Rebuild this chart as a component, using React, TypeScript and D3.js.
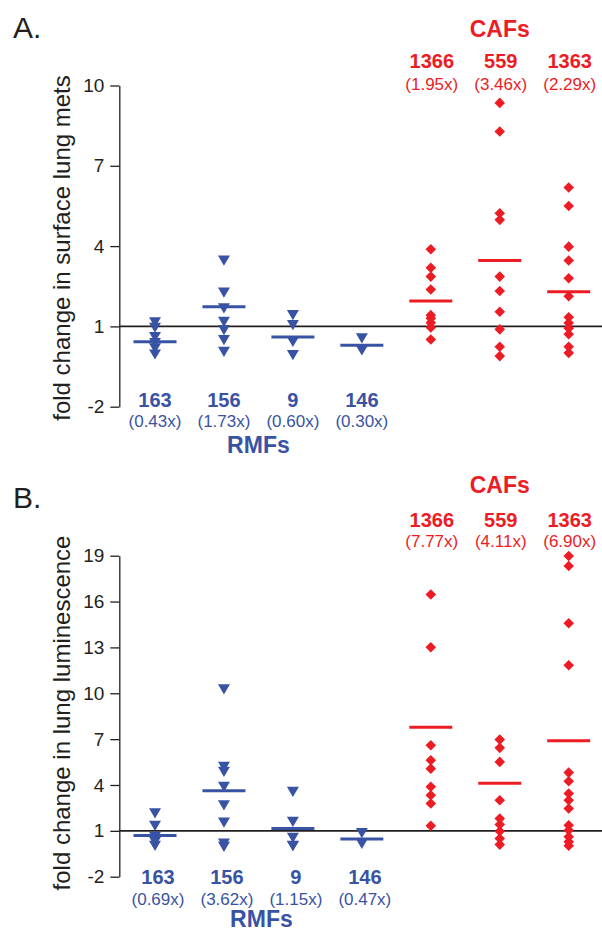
// @ts-nocheck
import React, { useEffect, useRef } from 'react'
import * as d3 from 'd3'

const groupNames = ['163', '156', '9', '146', '1366', '559', '1363']
const rmfNames = ['163', '156', '9', '146']
const cafNames = ['1366', '559', '1363']

// A. surface lung mets
const metsTicks = [-2, 1, 4, 7, 10]
const metsMeans = [0.43, 1.73, 0.60, 0.30, 1.95, 3.46, 2.29]
const metsPoints = [
    [1.15, 0.95, 0.6, 0.38, 0.18, -0.05],
    [3.46, 2.26, 1.67, 1.17, 0.86, 0.49, 0.05],
    [1.42, 1.05, 0.42, -0.07],
    [0.55, 0.1],
    [3.88, 3.19, 2.86, 2.38, 1.42, 1.30, 1.14, 0.96, 0.51],
    [9.35, 8.28, 5.23, 4.98, 2.86, 2.32, 1.55, 0.89, 0.24, -0.11],
    [6.19, 5.50, 3.98, 3.46, 2.80, 2.13, 1.34, 1.13, 0.93, 0.71, 0.24, 0.01],
]

// B. lung luminescence
const lumTicks = [-2, 1, 4, 7, 10, 13, 16, 19]
const lumMeans = [0.69, 3.62, 1.15, 0.47, 7.77, 4.11, 6.90]
const lumPoints = [
    [2.14, 1.33, 0.6, 0.28, 0.02],
    [10.26, 5.19, 4.86, 3.88, 2.67, 1.54, 0.17, -0.05],
    [3.55, 1.59, 0.54, 0.02, 0.0],
    [0.85, 0.15],
    [16.46, 13.01, 6.60, 5.62, 5.07, 3.88, 3.33, 2.79, 1.33],
    [6.97, 6.43, 5.51, 3.0, 1.80, 1.41, 0.97, 0.50, 0.10],
    [18.98, 18.33, 14.58, 11.83, 4.81, 4.24, 3.44, 3.0, 2.46, 1.37, 1.04, 0.61, 0.28, 0.02],
]

const BLUE = '#3953a4'
const RED = '#ed1c24'
const INK = '#231f20'
const FONT = '"Liberation Sans", Arial, Helvetica, sans-serif'

const panels = [
    {
        letter: 'A.', yLabel: 'fold change in surface lung mets',
        ticks: metsTicks, means: metsMeans, points: metsPoints,
        top: 85.5, bottom: 406.7, letterY: 38, labelY: 248,
        cafTitleY: 36.7, cafNameY: 68.3, cafMeanY: 90,
        rmfNameY: 407, rmfMeanY: 427, rmfTitleY: 453, rmfDx: 0
    },
    {
        letter: 'B.', yLabel: 'fold change in lung luminescence',
        ticks: lumTicks, means: lumMeans, points: lumPoints,
        top: 555.7, bottom: 876.7, letterY: 508.3, labelY: 713,
        cafTitleY: 493.3, cafNameY: 526.7, cafMeanY: 547.3,
        rmfNameY: 884, rmfMeanY: 905, rmfTitleY: 927, rmfDx: 3
    }
]

// down-pointing triangle centred on its bounding box
const triangleDown = {
    draw(ctx, size) {
        const w = Math.sqrt(size), h = w * 0.85
        ctx.moveTo(-w / 2, -h / 2)
        ctx.lineTo(w / 2, -h / 2)
        ctx.lineTo(0, h / 2)
        ctx.closePath()
    }
}

const diamond = {
    draw(ctx, size) {
        const r = Math.sqrt(size) / 2
        ctx.moveTo(0, -r)
        ctx.lineTo(r, 0)
        ctx.lineTo(0, r)
        ctx.lineTo(-r, 0)
        ctx.closePath()
    }
}

const axisX = 119.3

const drawPanel = (svg, p) => {
    const x = d3.scalePoint(groupNames, [155, 568.7])
    const y = d3.scaleLinear([d3.min(p.ticks), d3.max(p.ticks)], [p.bottom, p.top])
    const g = svg.append('g')

    // panel letter
    g.append('text')
        .attr('x', 13).attr('y', p.letterY)
        .attr('font-size', 30).attr('fill', INK)
        .text(p.letter)

    // y-axis title
    g.append('text')
        .attr('transform', `translate(70, ${p.labelY}) rotate(-90)`)
        .attr('text-anchor', 'middle')
        .attr('font-size', 24).attr('fill', INK)
        .text(p.yLabel)

    // y-axis (plain hyphen for negatives, like the figure)
    g.append('g')
        .attr('transform', `translate(${axisX}, 0)`)
        .attr('color', INK)
        .call(d3.axisLeft(y).tickValues(p.ticks).tickFormat(d => String(d))
            .tickSize(9).tickPadding(6).tickSizeOuter(0))
        .call(a => a.selectAll('.tick text').attr('font-size', 19).attr('font-family', FONT))
        .call(a => a.selectAll('path, line').attr('stroke-width', 1.3))

    // baseline at fold change 1
    g.append('line')
        .attr('x1', axisX).attr('x2', 602)
        .attr('y1', y(1)).attr('y2', y(1))
        .attr('stroke', INK).attr('stroke-width', 1.6)

    groupNames.forEach((name, i) => {
        const isRmf = rmfNames.includes(name)
        const color = isRmf ? BLUE : RED
        const sym = d3.symbol().type(isRmf ? triangleDown : diamond).size(isRmf ? 144 : 112)

        g.append('g')
            .selectAll('path')
            .data(p.points[i])
            .join('path')
            .attr('transform', d => `translate(${x(name)}, ${y(d)})`)
            .attr('d', sym())
            .attr('fill', color)

        g.append('line')
            .attr('x1', x(name) - 21.5).attr('x2', x(name) + 21.5)
            .attr('y1', y(p.means[i])).attr('y2', y(p.means[i]))
            .attr('stroke', color).attr('stroke-width', 3)

        const dx = isRmf ? p.rmfDx : 1
        g.append('text')
            .attr('x', x(name) + dx).attr('y', isRmf ? p.rmfNameY : p.cafNameY)
            .attr('text-anchor', 'middle').attr('font-size', 20).attr('font-weight', 'bold')
            .attr('fill', color)
            .text(name)
        g.append('text')
            .attr('x', x(name) + dx).attr('y', isRmf ? p.rmfMeanY : p.cafMeanY)
            .attr('text-anchor', 'middle').attr('font-size', 17)
            .attr('fill', color)
            .text(`(${p.means[i].toFixed(2)}x)`)
    })

    // group titles
    g.append('text')
        .attr('x', (x(rmfNames[0]) + x(rmfNames[rmfNames.length - 1])) / 2 + p.rmfDx)
        .attr('y', p.rmfTitleY)
        .attr('text-anchor', 'middle').attr('font-size', 23).attr('font-weight', 'bold')
        .attr('fill', BLUE)
        .text('RMFs')
    g.append('text')
        .attr('x', x(cafNames[1]))
        .attr('y', p.cafTitleY)
        .attr('text-anchor', 'middle').attr('font-size', 23).attr('font-weight', 'bold')
        .attr('fill', RED)
        .text('CAFs')
}

const App: React.FC = () => {
    const ref = useRef(null)

    useEffect(() => {
        const svg = d3.select(ref.current)
        svg.selectAll('*').remove()
        panels.forEach(p => drawPanel(svg, p))
    }, [])

    return <svg ref={ref} width={602} height={933} fontFamily={FONT}
        style={{ position: 'absolute', left: 0, top: 0, background: '#fff' }} />
}

export default App
